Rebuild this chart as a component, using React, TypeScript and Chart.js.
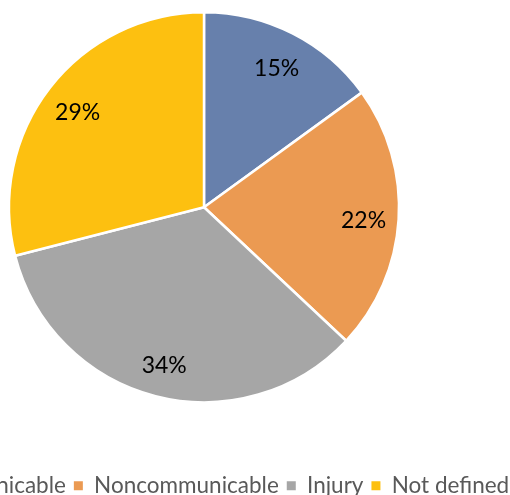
import React, { useEffect, useRef } from "react";
import { Chart, registerables } from "chart.js";

Chart.register(...registerables);

const categories = ["Communicable", "Noncommunicable", "Injury", "Not defined"];
const shares = [15, 22, 34, 29];
const sliceColors = ["#6780AC", "#EB9A52", "#A6A6A6", "#FDC010"];

const FONT = "Lato, 'Liberation Sans', sans-serif";

const labelPlugin = {
  id: "sliceLabels",
  afterDatasetsDraw(chart: any) {
    const ctx = chart.ctx;
    const meta = chart.getDatasetMeta(0);
    ctx.save();
    ctx.fillStyle = "#000000";
    ctx.font = `23px ${FONT}`;
    ctx.textAlign = "center";
    ctx.textBaseline = "alphabetic";
    meta.data.forEach((arc: any, i: number) => {
      const { x, y, startAngle, endAngle, outerRadius } = arc.getProps(
        ["x", "y", "startAngle", "endAngle", "outerRadius"],
        true
      );
      const mid = (startAngle + endAngle) / 2;
      const d = outerRadius * 0.82;
      ctx.fillText(`${shares[i]}%`, x + Math.cos(mid) * d, y + Math.sin(mid) * d + 11);
    });
    ctx.restore();
  },
};

export default function App() {
  const ref = useRef<HTMLCanvasElement | null>(null);

  useEffect(() => {
    if (!ref.current) return;
    const chart = new Chart(ref.current, {
      type: "pie",
      data: {
        labels: categories,
        datasets: [
          {
            data: shares,
            backgroundColor: sliceColors,
            borderColor: "#FFFFFF",
            borderWidth: 2.5,
            hoverOffset: 0,
          },
        ],
      },
      options: {
        responsive: false,
        animation: false,
        radius: 195,
        layout: { padding: 0 },
        plugins: {
          tooltip: { enabled: false },
          legend: {
            position: "bottom",
            labels: {
              boxWidth: 9,
              boxHeight: 9,
              padding: 8,
              color: "#595959",
              font: { family: FONT, size: 22.5 },
              generateLabels(chart: any) {
                const items = Chart.overrides.pie.plugins.legend.labels.generateLabels(chart);
                return items.map((it: any) => ({
                  ...it,
                  lineWidth: 0,
                  strokeStyle: "rgba(0,0,0,0)",
                }));
              },
            },
          },
        },
      },
      plugins: [labelPlugin],
    });
    return () => chart.destroy();
  }, []);

  return (
    <div
      style={{
        position: "fixed",
        left: 0,
        top: 0,
        width: 510,
        height: 495,
        overflow: "hidden",
        background: "#FFFFFF",
      }}
    >
      <canvas
        ref={ref}
        width={700}
        height={559}
        style={{ position: "absolute", left: -146, top: -52, width: 700, height: 559 }}
      />
    </div>
  );
}
